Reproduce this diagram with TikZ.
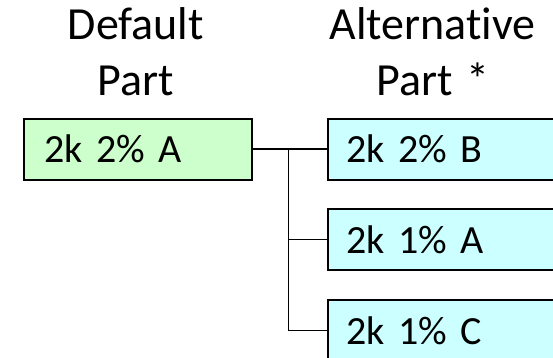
\documentclass[tikz,border=0pt]{standalone}
\usepackage{fontspec}
\setmainfont{Carlito}[Ligatures=NoCommon]
\usetikzlibrary{positioning}
\definecolor{defaultgreen}{HTML}{CCFFCC}
\definecolor{altcyan}{HTML}{CCFFFF}
\tikzset{
	partbox/.style={draw=black, line width=1.8pt, rectangle, anchor=north west,
		minimum height=61pt, minimum width=226pt, text width=188pt, inner xsep=19pt,
		align=left, font=\fontsize{40}{48}\selectfont},
	header/.style={anchor=base, inner sep=0pt, font=\fontsize{46}{54}\selectfont},
	link/.style={line width=1.4pt}
}

\begin{document}
\begin{tikzpicture}[x=1pt, y=-1pt]
			%%%%% START %%%%%
			
			\useasboundingbox (0, 0) rectangle (553, 357);
			\clip (0, 0) rectangle (553, 357);
			
			\node[header] (defhead) at (135.8, 39.3) {Default};
			\node[header] (defpart) at (135.8, 95) {Part};
			\node[header] (althead) at (432.5, 39.3) {Alternative};
			\node[header] (altpart) at (433, 95) {Part\hspace{4pt} *};
			
			\node[partbox, fill=defaultgreen, minimum width=228pt] (def) at (23.3, 117.7) {2k 2\% A};
			\node[partbox, fill=altcyan] (altB) at (326.7, 117.7) {2k 2\% B};
			\node[partbox, fill=altcyan] (altA) at (326.7, 208.3) {2k 1\% A};
			\node[partbox, fill=altcyan] (altC) at (326.7, 299.3) {2k 1\% C};
			
			\coordinate (fork) at (288.5, 148);
			\draw[link] (def.east) -- (altB.west);
			\draw[link] (fork) |- (altA.west);
			\draw[link] (fork) |- (altC.west);
			
			%%%%% END %%%%%
		\end{tikzpicture}
\end{document}
